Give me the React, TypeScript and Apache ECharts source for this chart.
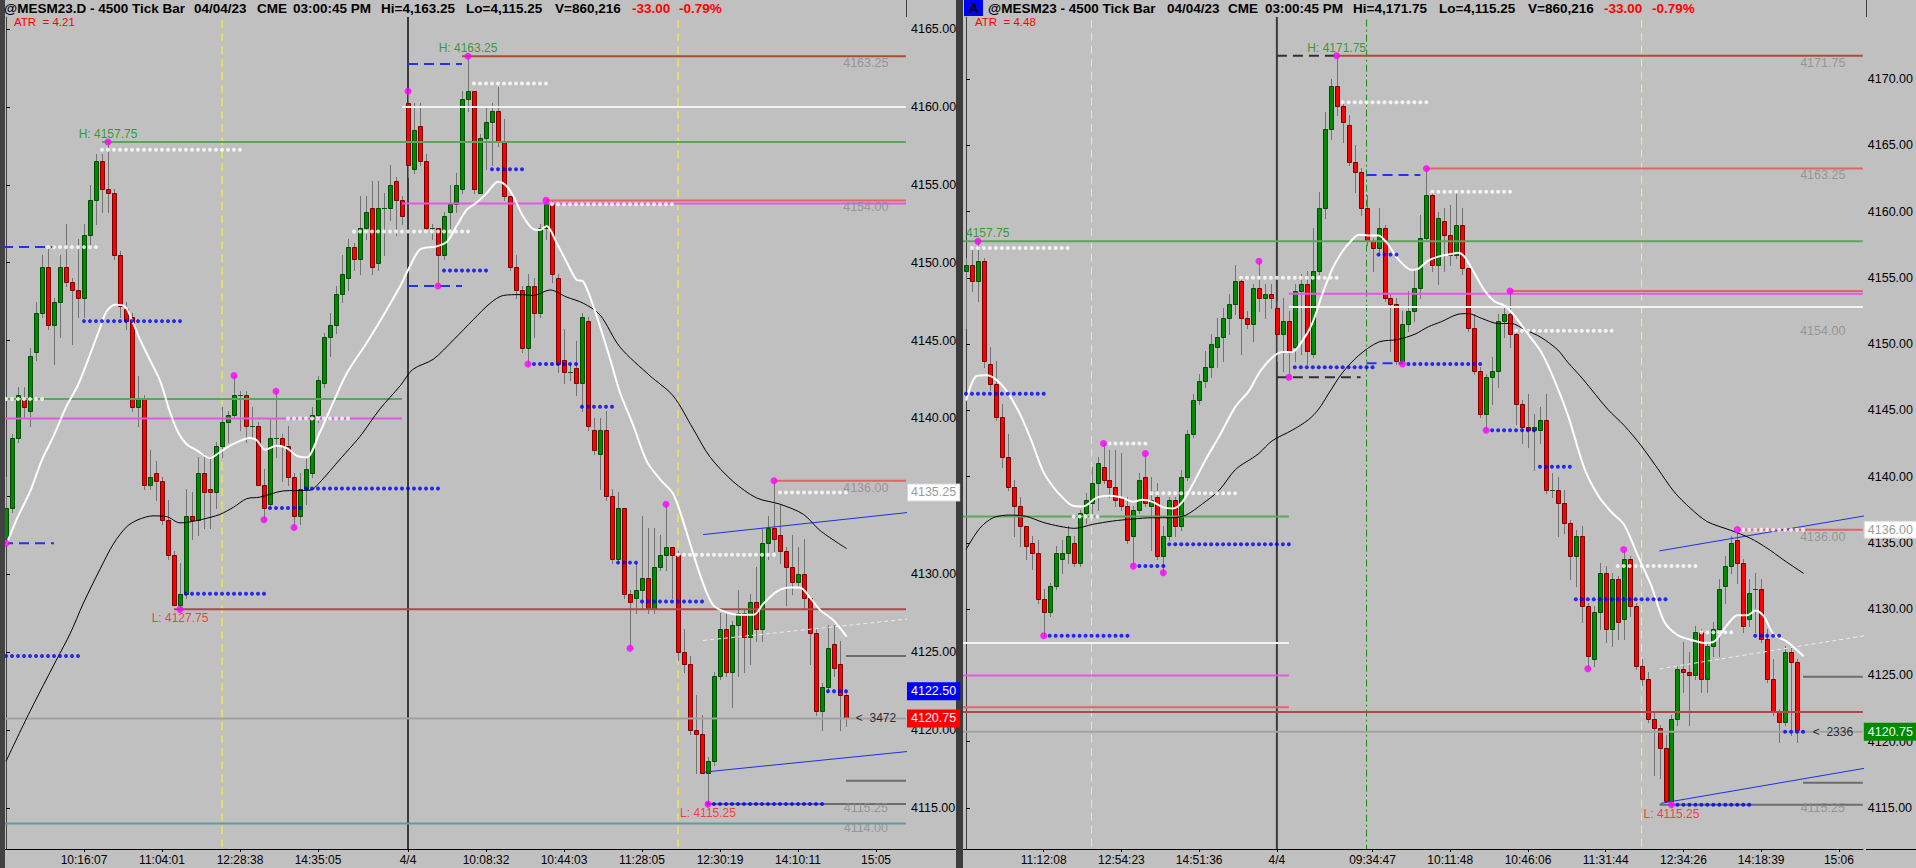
import React, { useEffect, useRef } from "react";
import * as echarts from "echarts";

// ---------- price bars: [open, high, low, close] ----------
const leftBars = [
  [4132.25, 4136.25, 4132.0, 4134.25], [4134.25, 4139.0, 4134.0, 4138.75], [4138.75, 4142.0, 4138.5, 4141.5],
  [4141.25, 4142.0, 4140.0, 4140.75], [4140.5, 4144.5, 4139.5, 4144.0], [4144.25, 4147.5, 4143.75, 4146.75],
  [4146.75, 4150.5, 4146.5, 4149.75], [4149.75, 4151.0, 4145.75, 4146.0], [4146.0, 4147.75, 4143.5, 4147.5],
  [4147.5, 4150.5, 4145.25, 4149.75], [4149.75, 4152.5, 4148.5, 4148.75], [4148.75, 4149.0, 4144.75, 4148.25],
  [4148.25, 4151.5, 4146.5, 4147.75], [4147.75, 4152.5, 4146.5, 4151.75], [4151.75, 4155.0, 4151.0, 4154.0],
  [4154.0, 4157.0, 4152.5, 4156.5], [4156.5, 4157.0, 4153.25, 4154.75], [4154.75, 4157.75, 4153.25, 4154.5],
  [4154.5, 4154.75, 4150.25, 4150.5], [4150.5, 4150.75, 4146.5, 4147.25], [4147.0, 4147.5, 4145.75, 4146.25],
  [4146.5, 4146.75, 4140.5, 4140.75], [4140.75, 4142.75, 4139.5, 4141.25], [4141.25, 4141.5, 4135.5, 4135.75],
  [4135.75, 4138.0, 4135.5, 4136.25], [4136.5, 4137.25, 4134.75, 4136.0], [4136.0, 4136.25, 4133.25, 4133.5],
  [4133.5, 4134.75, 4131.0, 4131.25], [4131.25, 4131.5, 4128.0, 4128.0], [4128.0, 4130.75, 4127.75, 4128.75],
  [4128.75, 4135.5, 4128.5, 4133.75], [4133.75, 4135.25, 4132.25, 4133.5], [4133.5, 4137.5, 4132.5, 4136.5],
  [4136.5, 4137.75, 4133.0, 4135.25], [4135.5, 4137.5, 4133.0, 4135.25], [4135.25, 4138.5, 4134.25, 4138.25],
  [4138.25, 4140.75, 4137.5, 4139.75], [4139.75, 4140.5, 4138.5, 4140.25], [4140.25, 4142.75, 4140.0, 4141.5],
  [4141.5, 4141.75, 4139.25, 4141.5], [4141.5, 4141.75, 4138.5, 4139.5], [4139.5, 4140.75, 4138.75, 4139.5],
  [4139.5, 4139.75, 4135.75, 4135.75], [4135.75, 4136.75, 4133.5, 4134.25], [4134.5, 4140.0, 4134.25, 4138.75],
  [4138.75, 4141.75, 4137.5, 4138.75], [4138.75, 4139.0, 4136.0, 4138.25], [4138.25, 4139.5, 4135.75, 4136.25],
  [4136.25, 4136.5, 4133.0, 4133.75], [4133.75, 4136.5, 4133.25, 4135.5], [4135.5, 4137.5, 4134.5, 4136.75],
  [4136.5, 4140.75, 4136.25, 4140.25], [4140.25, 4142.75, 4139.75, 4142.5], [4142.25, 4145.5, 4142.0, 4145.25],
  [4145.25, 4146.75, 4144.0, 4146.0], [4146.0, 4148.5, 4145.5, 4148.0], [4148.0, 4150.5, 4147.5, 4149.25],
  [4149.0, 4151.5, 4148.25, 4151.0], [4151.0, 4151.25, 4149.5, 4150.25], [4150.25, 4154.25, 4149.25, 4152.25],
  [4152.25, 4154.25, 4151.5, 4153.25], [4153.5, 4155.25, 4149.25, 4149.75], [4150.0, 4155.25, 4149.5, 4153.5],
  [4153.5, 4154.5, 4150.5, 4153.5], [4153.5, 4156.25, 4152.75, 4155.0], [4155.25, 4155.5, 4151.75, 4154.0],
  [4154.0, 4154.25, 4152.5, 4153.0], [4160.25, 4161.0, 4155.5, 4156.25], [4156.0, 4160.25, 4155.75, 4158.5],
  [4158.75, 4160.25, 4156.25, 4156.5], [4156.5, 4157.0, 4152.0, 4152.25], [4152.25, 4152.5, 4151.5, 4152.25],
  [4152.25, 4152.25, 4148.5, 4150.5], [4150.5, 4153.25, 4150.25, 4153.0], [4153.25, 4155.0, 4152.25, 4153.75],
  [4153.75, 4155.75, 4153.25, 4155.0], [4154.75, 4161.0, 4154.5, 4160.5], [4160.5, 4163.25, 4159.75, 4161.0],
  [4161.0, 4161.0, 4154.5, 4154.75], [4154.5, 4158.25, 4154.5, 4158.0], [4158.0, 4160.0, 4156.0, 4159.0],
  [4159.0, 4160.25, 4156.25, 4159.75], [4159.75, 4161.25, 4157.5, 4157.75], [4157.75, 4159.25, 4154.0, 4154.25],
  [4154.25, 4154.25, 4149.5, 4149.75], [4149.75, 4150.5, 4147.75, 4148.25], [4148.25, 4148.5, 4144.25, 4144.5],
  [4144.5, 4149.25, 4143.5, 4148.5], [4148.5, 4149.0, 4145.25, 4146.75], [4146.75, 4152.5, 4146.5, 4152.25],
  [4152.25, 4154.0, 4151.5, 4153.75], [4153.75, 4154.0, 4148.75, 4149.25], [4149.0, 4149.25, 4143.0, 4143.5],
  [4143.75, 4145.75, 4142.25, 4143.0], [4143.0, 4143.5, 4142.5, 4143.0], [4143.25, 4145.0, 4141.5, 4142.25],
  [4142.25, 4146.75, 4140.5, 4146.5], [4146.25, 4146.5, 4139.25, 4139.5], [4139.25, 4140.0, 4137.75, 4138.0],
  [4137.75, 4140.0, 4135.5, 4139.25], [4139.25, 4140.5, 4134.75, 4135.0], [4135.0, 4135.5, 4130.75, 4131.0],
  [4131.0, 4135.25, 4130.75, 4134.25], [4134.25, 4134.25, 4128.5, 4128.75], [4128.75, 4129.0, 4125.25, 4128.25],
  [4128.5, 4130.75, 4127.5, 4129.0], [4129.0, 4133.75, 4127.75, 4129.75], [4129.75, 4133.0, 4127.5, 4127.75],
  [4127.75, 4133.0, 4127.5, 4130.5], [4130.5, 4132.5, 4130.25, 4131.25], [4131.25, 4134.5, 4130.25, 4131.75],
  [4131.75, 4131.75, 4128.5, 4131.25], [4131.25, 4131.5, 4124.5, 4125.0], [4125.0, 4126.5, 4123.75, 4124.25],
  [4124.25, 4124.75, 4119.75, 4120.0], [4120.0, 4122.25, 4117.25, 4119.75], [4119.75, 4121.0, 4117.25, 4117.25],
  [4117.25, 4118.25, 4115.25, 4118.0], [4118.0, 4123.75, 4117.75, 4123.5], [4123.5, 4127.5, 4123.25, 4126.5],
  [4126.5, 4127.5, 4123.5, 4123.75], [4123.75, 4127.0, 4121.5, 4126.75], [4126.75, 4129.0, 4123.5, 4127.5],
  [4127.5, 4127.75, 4123.75, 4126.0], [4126.0, 4128.75, 4124.25, 4128.25], [4128.25, 4130.5, 4125.75, 4126.5],
  [4126.5, 4133.0, 4125.75, 4132.0], [4132.0, 4133.75, 4131.0, 4133.0], [4133.0, 4136.0, 4131.5, 4132.25],
  [4132.5, 4134.5, 4130.75, 4131.5], [4131.5, 4131.75, 4128.0, 4130.5], [4130.5, 4132.5, 4128.75, 4129.5],
  [4129.5, 4131.75, 4129.25, 4130.0], [4130.0, 4132.25, 4127.75, 4128.5], [4128.5, 4128.5, 4124.25, 4126.25],
  [4126.25, 4126.5, 4121.0, 4121.25], [4121.25, 4123.0, 4120.0, 4122.75], [4122.75, 4126.75, 4122.5, 4125.25],
  [4125.5, 4126.75, 4123.5, 4124.0], [4124.25, 4125.75, 4120.0, 4122.25], [4122.25, 4122.5, 4120.25, 4120.75],
];

const rightBars = [
  [4155.5, 4156.5, 4151.25, 4156.0], [4156.0, 4157.25, 4154.0, 4154.75], [4154.75, 4157.75, 4153.25, 4156.25],
  [4156.25, 4156.5, 4148.25, 4148.75], [4148.5, 4149.75, 4146.5, 4147.0], [4147.0, 4148.75, 4144.25, 4144.5],
  [4144.5, 4145.5, 4140.75, 4141.5], [4141.5, 4143.25, 4139.0, 4139.25], [4139.25, 4139.75, 4135.5, 4137.75],
  [4137.75, 4138.5, 4134.75, 4136.25], [4136.25, 4136.25, 4133.75, 4134.75], [4135.0, 4135.5, 4133.0, 4134.25],
  [4134.25, 4135.25, 4130.5, 4130.75], [4130.75, 4131.5, 4128.0, 4129.75], [4129.75, 4132.0, 4129.5, 4131.75],
  [4131.75, 4134.75, 4131.5, 4134.25], [4133.75, 4135.25, 4132.75, 4134.25], [4134.25, 4136.25, 4133.5, 4135.5],
  [4135.0, 4135.5, 4133.25, 4133.5], [4133.5, 4137.5, 4133.25, 4137.25], [4137.25, 4138.75, 4136.5, 4138.25],
  [4138.0, 4140.75, 4137.25, 4139.5], [4139.5, 4141.5, 4137.5, 4141.0], [4140.75, 4142.5, 4139.5, 4139.75],
  [4139.75, 4142.0, 4138.5, 4139.25], [4139.25, 4142.0, 4137.75, 4138.25], [4138.5, 4141.75, 4137.5, 4137.75],
  [4137.75, 4138.5, 4135.0, 4135.25], [4135.5, 4137.75, 4133.25, 4137.5], [4137.5, 4140.25, 4137.25, 4139.75],
  [4140.0, 4141.75, 4137.75, 4138.0], [4137.75, 4140.0, 4134.5, 4138.25], [4138.5, 4139.5, 4133.75, 4134.0],
  [4134.0, 4136.25, 4132.75, 4135.5], [4135.5, 4138.5, 4135.25, 4138.25], [4138.25, 4138.5, 4135.5, 4136.25],
  [4136.25, 4140.5, 4136.0, 4140.0], [4140.0, 4143.5, 4139.75, 4143.25], [4143.25, 4146.25, 4143.0, 4145.75],
  [4145.75, 4147.75, 4145.5, 4147.25], [4147.25, 4149.5, 4146.75, 4148.25], [4148.25, 4150.75, 4147.5, 4150.0],
  [4149.75, 4152.0, 4148.25, 4150.5], [4150.5, 4152.75, 4148.75, 4152.0], [4152.0, 4153.75, 4150.75, 4153.0],
  [4153.0, 4156.0, 4152.25, 4154.75], [4154.75, 4155.0, 4149.25, 4152.0], [4152.0, 4152.5, 4151.25, 4151.5],
  [4151.5, 4154.5, 4150.25, 4154.25], [4154.25, 4156.25, 4152.5, 4153.5], [4153.5, 4154.5, 4152.0, 4153.75],
  [4153.75, 4154.5, 4152.75, 4153.5], [4152.75, 4153.25, 4148.75, 4150.75], [4150.75, 4153.5, 4148.0, 4151.75],
  [4151.75, 4152.5, 4147.5, 4149.5], [4149.75, 4154.5, 4148.75, 4154.0], [4154.0, 4155.25, 4149.25, 4154.5],
  [4154.5, 4155.5, 4148.5, 4149.5], [4149.25, 4158.75, 4149.0, 4155.5], [4155.5, 4161.5, 4155.25, 4160.25],
  [4160.25, 4167.5, 4159.5, 4166.25], [4166.25, 4170.0, 4165.5, 4169.5], [4169.5, 4171.75, 4167.25, 4168.0],
  [4168.0, 4168.25, 4165.25, 4166.75], [4166.5, 4167.25, 4163.5, 4163.75], [4163.75, 4165.0, 4161.5, 4163.0],
  [4163.0, 4163.25, 4159.75, 4160.25], [4160.25, 4161.25, 4157.5, 4157.75], [4157.75, 4158.0, 4155.5, 4157.25],
  [4157.25, 4160.25, 4156.75, 4158.75], [4158.75, 4159.0, 4153.25, 4153.5], [4153.5, 4153.75, 4149.5, 4153.0],
  [4153.0, 4153.5, 4148.5, 4148.75], [4148.75, 4152.5, 4148.5, 4151.5], [4151.5, 4154.0, 4151.0, 4152.5],
  [4152.5, 4155.5, 4151.75, 4154.25], [4154.25, 4159.75, 4153.5, 4158.0], [4158.0, 4163.25, 4157.75, 4161.25],
  [4161.25, 4161.5, 4155.5, 4156.0], [4156.0, 4160.0, 4154.5, 4159.5], [4159.25, 4160.25, 4155.5, 4158.25],
  [4158.25, 4160.5, 4156.0, 4156.75], [4156.75, 4161.5, 4156.5, 4159.0], [4159.0, 4160.25, 4155.25, 4155.75],
  [4155.75, 4155.75, 4151.0, 4151.25], [4151.25, 4152.25, 4147.75, 4148.0], [4148.0, 4148.25, 4144.5, 4144.75],
  [4144.75, 4147.75, 4143.5, 4147.5], [4147.5, 4149.0, 4145.5, 4148.0], [4148.0, 4152.25, 4146.75, 4151.75],
  [4151.75, 4153.0, 4150.5, 4152.25], [4152.25, 4154.0, 4149.75, 4150.75], [4150.75, 4151.0, 4144.0, 4145.5],
  [4145.5, 4145.75, 4142.5, 4143.75], [4143.75, 4146.25, 4142.25, 4143.5], [4143.5, 4144.75, 4140.5, 4143.75],
  [4143.5, 4145.25, 4142.5, 4144.25], [4144.25, 4146.25, 4138.75, 4139.0], [4139.0, 4140.25, 4138.5, 4139.0],
  [4139.0, 4140.0, 4135.5, 4138.0], [4138.0, 4139.0, 4135.75, 4136.5], [4136.5, 4136.75, 4132.25, 4134.0],
  [4134.0, 4136.0, 4131.75, 4135.5], [4135.5, 4136.25, 4129.0, 4130.25], [4130.25, 4130.5, 4125.5, 4126.5],
  [4126.25, 4130.25, 4125.75, 4129.75], [4129.75, 4133.5, 4128.5, 4132.75], [4132.75, 4133.25, 4127.5, 4128.5],
  [4128.5, 4132.75, 4127.25, 4132.25], [4132.25, 4132.5, 4127.75, 4129.0], [4129.25, 4134.5, 4127.75, 4133.75],
  [4133.75, 4134.0, 4129.5, 4130.25], [4130.25, 4130.5, 4125.5, 4125.75], [4125.75, 4126.25, 4124.25, 4124.75],
  [4124.75, 4125.25, 4121.5, 4121.75], [4121.75, 4122.25, 4117.5, 4121.0], [4121.0, 4121.25, 4117.25, 4119.5],
  [4119.5, 4120.5, 4115.5, 4115.5], [4115.5, 4122.0, 4115.25, 4121.75], [4121.75, 4125.75, 4121.25, 4125.5],
  [4125.5, 4127.5, 4123.75, 4125.25], [4125.25, 4126.75, 4121.25, 4125.0], [4125.0, 4128.75, 4124.75, 4128.25],
  [4128.25, 4128.5, 4123.75, 4124.75], [4124.75, 4127.5, 4123.75, 4127.25], [4127.25, 4129.0, 4126.5, 4128.5],
  [4128.5, 4132.25, 4126.5, 4131.5], [4131.75, 4134.0, 4130.5, 4133.25], [4133.25, 4135.5, 4132.75, 4135.0],
  [4135.25, 4136.0, 4132.0, 4133.5], [4133.5, 4133.75, 4128.25, 4128.75], [4129.25, 4132.25, 4128.75, 4131.25],
  [4131.5, 4132.75, 4128.25, 4131.5], [4131.5, 4132.25, 4127.5, 4127.75], [4127.75, 4128.5, 4124.5, 4124.75],
  [4124.75, 4126.25, 4122.0, 4122.25], [4122.25, 4122.5, 4120.0, 4121.5], [4121.5, 4127.25, 4121.25, 4126.75],
  [4126.75, 4127.25, 4120.5, 4126.0], [4126.0, 4126.25, 4120.0, 4120.75],
];

// ---------- moving averages traced as [bar, price] ----------
const leftFastMA = [
  [0, 4131.85], [1.8, 4133.55], [4, 4135.3], [6, 4137.35], [7.9, 4138.85], [10.1, 4140.8], [12, 4142.15], [14, 4144.1],
  [15.7, 4145.85], [16.8, 4146.9], [18.2, 4147.3], [19.8, 4147.2], [21, 4146.3], [22.3, 4145.1], [24, 4143.75],
  [25.7, 4142.4], [27.3, 4140.45], [28.7, 4139.1], [30.1, 4138.35], [31.8, 4137.95], [34, 4137.45], [35.7, 4137.85],
  [37.8, 4138.35], [40.7, 4138.75], [41.8, 4138.6], [43.2, 4138.0], [45.1, 4138.25], [46.8, 4138.1], [48.5, 4137.6],
  [50.1, 4137.5], [52.3, 4139.1], [54.5, 4141.0], [56.8, 4142.9], [60.1, 4144.85], [62.8, 4146.55], [65.7, 4148.5],
  [67.3, 4149.75], [69, 4150.85], [71.8, 4151.05], [73.5, 4151.35], [75.1, 4152.35], [76.8, 4153.4], [78.4, 4153.85],
  [80.1, 4154.45], [82, 4155.2], [83.2, 4155.0], [84.6, 4154.25], [86, 4153.1], [87.9, 4152.15], [89, 4152.1],
  [90.1, 4152.35], [91.8, 4151.25], [93.5, 4150.0], [95.1, 4148.9], [96.2, 4148.8], [97.9, 4147.2], [99.5, 4145.3],
  [100.7, 4143.8], [102.3, 4141.7], [104.5, 4139.6], [106.8, 4137.25], [109, 4136.1], [111.2, 4135.15], [112.9, 4133.35],
  [114.6, 4131.25], [116.2, 4129.4], [117.9, 4128.0], [120.1, 4127.55], [122.3, 4127.4], [124.6, 4127.4], [126.2, 4128.1],
  [128.5, 4128.9], [130.7, 4129.15], [132.3, 4129.15], [134, 4128.5], [135.7, 4127.7], [137.9, 4127.05], [140.1, 4126.0],
];
const leftSlowMA = [
  [0, 4118.0], [4, 4121.2], [8.4, 4124.5], [10.7, 4126.2], [12.9, 4128.15], [15.7, 4130.35], [17.9, 4131.95],
  [20.1, 4133.05], [22, 4133.5], [24.5, 4133.75], [26.8, 4133.7], [29, 4133.3], [31.2, 4133.4], [34, 4133.65],
  [35.7, 4133.85], [37.9, 4134.3], [40.1, 4134.85], [42.3, 4134.95], [46.2, 4135.35], [50.7, 4135.4], [52.3, 4135.9],
  [55.7, 4137.4], [59, 4138.85], [62.3, 4140.6], [65.7, 4142.1], [67.8, 4143.15], [71.2, 4143.8], [74.6, 4145.05],
  [77.9, 4146.35], [80.7, 4147.4], [82.9, 4147.9], [85.7, 4147.95], [87.9, 4147.9], [90.7, 4148.25], [93.4, 4147.8],
  [96.2, 4147.4], [99, 4146.65], [102.3, 4144.6], [107.3, 4142.75], [111.2, 4141.45], [114.5, 4139.35], [117.3, 4137.55],
  [121.2, 4135.95], [125.1, 4134.9], [129, 4134.5], [132.9, 4133.85], [135.7, 4132.8], [140.1, 4131.65],
];
const rightFastMA = [
  [0, 4145.75], [1.8, 4147.6], [3.45, 4147.65], [5.1, 4147.3], [6.8, 4146.45], [9, 4144.75], [10.95, 4142.7],
  [12.9, 4140.4], [14.55, 4139.25], [16.2, 4138.4], [17.9, 4137.8], [19.55, 4137.75], [21.8, 4138.4], [24, 4138.55],
  [26.2, 4138.4], [27.9, 4138.1], [29.55, 4138.25], [31.2, 4138.1], [32.9, 4137.7], [34.55, 4137.6], [36.2, 4138.1],
  [37.9, 4139.4], [40.1, 4141.3], [42.3, 4143.0], [45.1, 4145.3], [47.3, 4146.45], [49, 4147.8], [51, 4148.9],
  [52.9, 4149.4], [54.55, 4149.4], [56.2, 4150.2], [57.9, 4151.55], [59.55, 4153.7], [61.2, 4155.6], [62.9, 4156.95],
  [64.55, 4157.85], [65.7, 4158.25], [67.3, 4158.2], [69, 4158.2], [70.7, 4157.45], [72.3, 4156.4], [74.55, 4155.6],
  [75.7, 4155.7], [77.3, 4156.3], [79, 4156.6], [81.2, 4156.8], [82.3, 4156.9], [83.45, 4156.55], [85.1, 4155.3],
  [86.8, 4154.0], [88.45, 4153.2], [90.1, 4152.9], [91.8, 4152.1], [94, 4150.75], [96.2, 4149.4], [98.45, 4147.25],
  [100.7, 4144.6], [103.45, 4140.6], [105.7, 4138.6], [107.9, 4137.35], [110.1, 4136.35], [112.3, 4134.1],
  [114.55, 4131.85], [116.8, 4129.05], [119, 4128.05], [121.2, 4127.7], [123.45, 4127.45], [125.1, 4127.55],
  [127.3, 4128.8], [129, 4129.55], [130.7, 4129.55], [132.05, 4129.9], [133.45, 4129.45], [135.1, 4128.1],
  [137.3, 4127.55], [140.1, 4126.45],
];
const rightSlowMA = [
  [0, 4134.5], [2.3, 4136.1], [4.55, 4136.9], [7.3, 4137.1], [10.1, 4137.0], [12.9, 4136.55], [15.7, 4136.25],
  [18.2, 4136.1], [21.2, 4136.4], [24.55, 4136.65], [27.9, 4136.8], [31.2, 4136.9], [34.55, 4136.9], [36.8, 4137.1],
  [39.55, 4137.95], [42.3, 4138.95], [45.1, 4140.55], [47.9, 4141.4], [49, 4141.75], [51.2, 4142.7], [54.55, 4143.5],
  [57.3, 4144.3], [59, 4145.1], [60.7, 4146.3], [62.9, 4147.8], [65.7, 4149.15], [69, 4150.15], [72.3, 4150.35],
  [75.1, 4150.75], [77.3, 4151.3], [79.55, 4151.7], [82.3, 4152.25], [84, 4152.3], [86.2, 4151.95], [89, 4151.55],
  [91.2, 4151.55], [93.45, 4151.1], [96.2, 4150.5], [99, 4149.55], [100.7, 4148.6], [103.2, 4147.35], [107.3, 4145.1],
  [110.1, 4143.85], [112.9, 4142.35], [115.7, 4140.6], [118.45, 4138.85], [121.2, 4137.6], [124, 4136.6],
  [127.9, 4135.95], [131.2, 4135.35], [134, 4134.6], [136.8, 4133.7], [140.1, 4132.7],
];

// ---------- horizontal levels: [fromBar, toBar, price] ----------
const leftHighLevels = [[76, 150, 4163.25]];
const leftRedLevels = [[90, 150, 4154.0], [128, 150, 4136.0]];
const leftLowLevels = [[28, 150, 4127.75]];
const leftGreenLevels = [[16, 150, 4157.75], [-0.5, 66, 4141.25]];
const leftMagentaLevels = [[66, 150, 4153.8], [-0.5, 66, 4140.0]];
const leftWhiteLevels = [[66, 150, 4160.0]];
const leftTealLevels = [[-0.5, 150, 4114.0]];
const leftStubLevels = [[140, 150, 4124.75], [140, 150, 4116.75], [117, 150, 4115.25]];
const leftBlueDashes = [[-0.5, 8, 4151.0], [-0.5, 8, 4132.0], [67, 76, 4162.75], [67, 76, 4148.5]];
const leftBlackDashes: number[][] = [];

const rightHighLevels = [[62, 150, 4171.75]];
const rightRedLevels = [[77, 150, 4163.25], [91, 150, 4154.0], [129, 150, 4136.0], [-0.5, 54, 4122.6]];
const rightLowLevels = [[-0.5, 150, 4122.25]];
const rightGreenLevels = [[-0.5, 150, 4157.75], [-0.5, 54, 4137.0]];
const rightMagentaLevels = [[54, 150, 4153.8], [-0.5, 54, 4125.0]];
const rightWhiteLevels = [[54, 150, 4152.8], [-0.5, 54, 4127.45]];
const rightTealLevels: number[][] = [];
const rightStubLevels = [[140, 150, 4124.9], [140, 150, 4116.9], [116, 150, 4115.25]];
const rightBlueDashes = [[67, 76, 4162.75], [67, 73, 4148.55]];
const rightBlackDashes = [[52, 62, 4171.75], [52, 66, 4147.5]];

const lastPrice = 4120.75;

// ---------- trend channels: [fromBar, fromPrice, toBar, toPrice] ----------
const leftChannel = [[116.2, 4132.55, 155, 4134.16], [116.2, 4117.3, 155, 4118.81]];
const leftMidline = [[116.2, 4125.75, 155, 4127.32]];
const rightChannel = [[116, 4134.4, 155, 4137.4], [116.2, 4115.35, 155, 4118.36]];
const rightMidline = [[116, 4125.5, 155, 4128.34]];

// ---------- dotted pivot runs: [fromBar, toBar, price] ----------
const leftBlueDots = [
  [81, 86, 4156.0], [73, 80, 4149.5], [13, 29, 4146.25], [88, 95, 4143.5], [96, 101, 4140.75], [50, 72, 4135.5],
  [44, 49, 4134.25], [30, 43, 4128.75], [0, 12, 4124.75], [102, 105, 4130.75], [106, 116, 4128.25],
  [117, 136, 4115.25], [137, 140, 4122.5],
];
const leftWhiteDots = [
  [16, 39, 4157.25], [78, 90, 4161.5], [91, 111, 4153.75], [58, 77, 4152.0], [7, 15, 4151.0], [0, 6, 4141.25],
  [47, 57, 4140.0], [112, 128, 4131.25], [129, 140, 4135.25],
];
const rightBlueDots = [
  [69, 72, 4156.75], [55, 68, 4148.25], [74, 86, 4148.5], [88, 95, 4143.5], [0, 13, 4146.25], [96, 101, 4140.75],
  [34, 54, 4134.9], [29, 33, 4133.25], [14, 27, 4128.0], [102, 117, 4130.75], [132, 136, 4128.0],
  [137, 140, 4120.75], [119, 131, 4115.25],
];
const rightWhiteDots = [
  [63, 77, 4168.25], [78, 91, 4161.5], [1, 17, 4157.25], [46, 62, 4155.0], [92, 108, 4151.0], [24, 30, 4142.5],
  [31, 45, 4138.75], [18, 22, 4137.0], [109, 122, 4133.25], [123, 128, 4128.25], [129, 140, 4136.0],
];

// ---------- swing points: [bar, price] ----------
const leftSwings = [
  [0, 4132.0], [17, 4157.75], [29, 4127.75], [38, 4142.75], [43, 4133.5], [45, 4141.75], [48, 4133.0], [67, 4161.0],
  [72, 4148.5], [77, 4163.25], [87, 4143.5], [90, 4154.0], [104, 4125.25], [110, 4134.5], [117, 4115.25], [128, 4136.0],
];
const rightSwings = [
  [2, 4157.75], [13, 4128.0], [23, 4142.5], [28, 4133.25], [30, 4141.75], [33, 4132.75], [49, 4156.25], [54, 4147.5],
  [62, 4171.75], [73, 4148.5], [77, 4163.25], [87, 4143.5], [91, 4154.0], [104, 4125.5], [110, 4134.5], [118, 4115.25],
  [129, 4136.0],
];

// session high / low tags: [bar, price]
const leftHighTags = [[17, 4157.75], [77, 4163.25]];
const leftLowTags = [[29, 4127.75], [117, 4115.25]];
const rightHighTags = [[62, 4171.75]];
const rightLowTags = [[118, 4115.25]];

// grey level captions near the price scale
const leftLevelTags = [4163.25, 4154.0, 4136.0, 4115.25, 4114.0];
const rightLevelTags = [4171.75, 4163.25, 4154.0, 4136.0, 4115.25];

// price-scale flags
const leftFlagWhite = [4135.25];
const leftFlagBlue = [4122.5];
const rightFlagWhite = [4136.0];

// session separators (bar positions)
const leftYellowMarks = [36, 112];
const leftDayMarks = [67];
const leftGreenMarks: number[] = [];
const rightYellowMarks = [21, 113];
const rightDayMarks = [52];
const rightGreenMarks = [67];

// time axis
const leftTimeTicks = [13, 26, 39, 52, 67, 80, 93, 106, 119, 132, 145];
const leftTimeLabels = ["10:16:07", "11:04:01", "12:28:38", "14:35:05", "4/4", "10:08:32", "10:44:03", "11:28:05", "12:30:19", "14:10:11", "15:05"];
const rightTimeTicks = [13, 26, 39, 52, 68, 81, 94, 107, 120, 133, 146];
const rightTimeLabels = ["11:12:08", "12:54:23", "14:51:36", "4/4", "09:34:47", "10:11:48", "10:46:06", "11:31:44", "12:34:26", "14:18:39", "15:06"];

// price scale: ticks, and the labels left visible beside the flags
const leftPriceTicks = [4115, 4120, 4125, 4130, 4135, 4140, 4145, 4150, 4155, 4160, 4165];
const leftPriceLabels = [4115, 4120, 4125, 4130, 4140, 4145, 4150, 4155, 4160, 4165];
const rightPriceTicks = [4115, 4120, 4125, 4130, 4135, 4140, 4145, 4150, 4155, 4160, 4165, 4170];
const rightPriceLabels = [4115, 4120, 4125, 4130, 4135, 4140, 4145, 4150, 4155, 4160, 4165, 4170];

const leftVolume = "3472";
const rightVolume = "2336";

// ---------- layout ----------
const FONT = '"Liberation Sans", Arial, Helvetica, sans-serif';
const NARROW = '"Liberation Sans Narrow", "Arial Narrow", "Liberation Sans", Arial, sans-serif';
const GRID_TOP = 17;
const GRID_H = 832;
const LEFT_RANGE = { min: 4112.368, max: 4165.77 };
const RIGHT_RANGE = { min: 4111.907, max: 4174.677 };

const renderCandle = (params: any, api: any) => {
  const i = api.value(0);
  const o = api.value(1);
  const h = api.value(2);
  const l = api.value(3);
  const c = api.value(4);
  const pH = api.coord([i, h]);
  const pL = api.coord([i, l]);
  const yo = api.coord([i, o])[1];
  const yc = api.coord([i, c])[1];
  const x = Math.round(pH[0]);
  const top = Math.round(Math.min(yo, yc));
  const bot = Math.round(Math.max(yo, yc));
  const children: any[] = [
    {
      type: "line",
      shape: { x1: x + 0.5, y1: Math.round(pH[1]), x2: x + 0.5, y2: Math.round(pL[1]) + 1 },
      style: { stroke: "#737373", lineWidth: 1 },
    },
  ];
  if (bot - top < 1) {
    children.push({
      type: "line",
      shape: { x1: x - 2, y1: top + 0.5, x2: x + 3, y2: top + 0.5 },
      style: { stroke: "#006400", lineWidth: 1 },
    });
  } else {
    const up = c > o;
    children.push({
      type: "rect",
      shape: { x: x - 2 + 0.5, y: top + 0.5, width: 4, height: bot - top },
      style: { fill: up ? "#008a00" : "#ff0000", stroke: up ? "#004d00" : "#7a0000", lineWidth: 1 },
    });
  }
  return { type: "group", children };
};

const lineSeg = (gi: number, pts: number[][], color: string, width: number, z: number, dash?: any, clip = true) => ({
  type: "line",
  xAxisIndex: gi,
  yAxisIndex: gi,
  data: pts,
  symbol: "none",
  silent: true,
  clip,
  z,
  lineStyle: { color, width, type: dash || "solid" },
});

const levelSeries = (gi: number, segs: number[][], color: string, width: number, z: number, dash?: any) =>
  segs.map(([a, b, p]) => lineSeg(gi, [[a, p], [b, p]], color, width, z, dash));

const dotSeries = (gi: number, runs: number[][], color: string, size: number, z: number) => {
  const pts: number[][] = [];
  runs.forEach(([a, b, p]) => {
    for (let i = a; i <= b; i++) pts.push([i, p]);
  });
  return { type: "scatter", xAxisIndex: gi, yAxisIndex: gi, data: pts, symbolSize: size, itemStyle: { color }, silent: true, z };
};

const textSeries = (gi: number, items: any[], z = 8) => ({
  type: "scatter",
  xAxisIndex: gi,
  yAxisIndex: gi,
  symbolSize: 1,
  itemStyle: { color: "rgba(0,0,0,0)" },
  silent: true,
  z,
  data: items,
  label: { show: true, position: "inside", fontFamily: FONT, fontSize: 11 },
});

function panelSeries(gi: number, cfg: any) {
  const range = cfg.range;
  const series: any[] = [];
  // vertical session markers
  cfg.yellow.forEach((x: number) =>
    series.push(lineSeg(gi, [[x, range.max - 0.2], [x, range.min]], "#ffff00", 1, 1, [8, 5]))
  );
  cfg.day.forEach((x: number) => series.push(lineSeg(gi, [[x, range.max], [x, range.min]], "#3a3a3a", 2, 1)));
  cfg.green.forEach((x: number) =>
    series.push(lineSeg(gi, [[x, range.max - 0.2], [x, range.min]], "#138a13", 1, 1, [7, 3, 2, 3]))
  );
  // candles
  series.push({
    type: "custom",
    xAxisIndex: gi,
    yAxisIndex: gi,
    renderItem: renderCandle,
    data: cfg.bars.map((b: number[], i: number) => [i, b[0], b[1], b[2], b[3]]),
    encode: { x: 0, y: [1, 2, 3, 4] },
    clip: true,
    silent: true,
    z: 2,
  });
  // levels
  series.push(...levelSeries(gi, cfg.teal, "#5e9e9e", 2, 3));
  series.push(...levelSeries(gi, cfg.stub, "#6c6c6c", 2, 3));
  series.push(...levelSeries(gi, cfg.white, "#f4f4f4", 2, 3));
  series.push(...levelSeries(gi, cfg.greenLv, "#5ea35e", 2, 3));
  series.push(...levelSeries(gi, cfg.magenta, "#e25ae2", 2, 3));
  series.push(...levelSeries(gi, cfg.low, "#b04848", 2, 3));
  series.push(...levelSeries(gi, cfg.red, "#e26464", 2, 3));
  series.push(...levelSeries(gi, cfg.high, "#b04e2e", 2, 3));
  series.push(...levelSeries(gi, cfg.blueDash, "#2233e8", 2, 3, [10, 6]));
  series.push(...levelSeries(gi, cfg.blackDash, "#303030", 2, 3, [10, 6]));
  // last price line with price-scale flags
  const flags: any[] = [];
  const flag = (v: number, bg: string, fg: string) => ({
    yAxis: v,
    lineStyle: { color: "rgba(0,0,0,0)", width: 1 },
    label: {
      show: true,
      position: "end",
      distance: 2,
      formatter: v.toFixed(2),
      backgroundColor: bg,
      borderColor: bg === "#ffffff" ? "#d8d8d8" : bg,
      borderWidth: 1,
      color: fg,
      padding: [2, 3, 1, 3],
      fontSize: 12.5,
      fontFamily: NARROW,
      opacity: 1,
    },
  });
  cfg.flagWhite.forEach((v: number) => flags.push(flag(v, "#ffffff", "#9a9a9a")));
  cfg.flagBlue.forEach((v: number) => flags.push(flag(v, "#0000ff", "#ffffff")));
  flags.push(flag(lastPrice, cfg.lastColor, "#ffffff"));
  series.push({
    ...lineSeg(gi, [[-0.5, lastPrice], [150, lastPrice]], "#a2a2a2", 2, 3),
    markLine: {
      symbol: "none",
      silent: true,
      animation: false,
      z: 30,
      lineStyle: { color: "rgba(0,0,0,0)", width: 1, type: "solid" },
      data: flags,
    },
  });
  // channels
  cfg.channel.forEach(([a, p, b, q]: number[]) => series.push(lineSeg(gi, [[a, p], [b, q]], "#1f2fe6", 1, 4, "solid", false)));
  cfg.mid.forEach(([a, p, b, q]: number[]) => series.push(lineSeg(gi, [[a, p], [b, q]], "#ededed", 1, 4, [4, 3], false)));
  // averages
  series.push({ ...lineSeg(gi, cfg.slow, "#000000", 1, 5), smooth: 0.3 });
  series.push({ ...lineSeg(gi, cfg.fast, "#ffffff", 2, 5), smooth: 0.3 });
  // dots
  series.push(dotSeries(gi, cfg.blueDots, "#0000ff", 4, 6));
  series.push(dotSeries(gi, cfg.whiteDots, "#ffffff", 4, 6));
  series.push({
    type: "scatter",
    xAxisIndex: gi,
    yAxisIndex: gi,
    data: cfg.swings,
    symbolSize: 7,
    itemStyle: { color: "#ff00ff" },
    silent: true,
    z: 7,
  });
  // texts
  const texts: any[] = [];
  cfg.highTags.forEach(([x, p]: number[]) =>
    texts.push({ value: [x, p], label: { formatter: "H: " + p.toFixed(2), color: "#168a16", offset: [0, -8], fontSize: 12 } })
  );
  cfg.lowTags.forEach(([x, p]: number[]) =>
    texts.push({ value: [x, p], label: { formatter: "L: " + p.toFixed(2), color: "#ff1a1a", offset: [0, 9], fontSize: 12 } })
  );
  cfg.levelTags.forEach((p: number) =>
    texts.push({
      value: [143.3, p],
      label: { formatter: p.toFixed(2), color: "#8a8a8a", offset: [0, cfg.tagShift(p)], fontSize: 12.5 },
    })
  );
  texts.push({
    value: [145, lastPrice],
    label: { formatter: "<  " + cfg.volume, color: "#000000", offset: [0, 0], fontSize: 12 },
  });
  cfg.extraTexts.forEach((t: any) => texts.push(t));
  series.push(textSeries(gi, texts));
  return series;
}

function buildOption() {
  const leftCfg = {
    range: LEFT_RANGE,
    bars: leftBars,
    yellow: leftYellowMarks,
    day: leftDayMarks,
    green: leftGreenMarks,
    teal: leftTealLevels,
    stub: leftStubLevels,
    white: leftWhiteLevels,
    greenLv: leftGreenLevels,
    magenta: leftMagentaLevels,
    low: leftLowLevels,
    red: leftRedLevels,
    high: leftHighLevels,
    blueDash: leftBlueDashes,
    blackDash: leftBlackDashes,
    flagWhite: leftFlagWhite,
    flagBlue: leftFlagBlue,
    lastColor: "#ff0000",
    channel: leftChannel,
    mid: leftMidline,
    slow: leftSlowMA,
    fast: leftFastMA,
    blueDots: leftBlueDots,
    whiteDots: leftWhiteDots,
    swings: leftSwings,
    highTags: leftHighTags,
    lowTags: leftLowTags,
    levelTags: leftLevelTags,
    tagShift: (p: number) => (p < 4116 ? 4 : 7),
    volume: leftVolume,
    extraTexts: [],
  };
  const rightCfg = {
    range: RIGHT_RANGE,
    bars: rightBars,
    yellow: rightYellowMarks,
    day: rightDayMarks,
    green: rightGreenMarks,
    teal: rightTealLevels,
    stub: rightStubLevels,
    white: rightWhiteLevels,
    greenLv: rightGreenLevels,
    magenta: rightMagentaLevels,
    low: rightLowLevels,
    red: rightRedLevels,
    high: rightHighLevels,
    blueDash: rightBlueDashes,
    blackDash: rightBlackDashes,
    flagWhite: rightFlagWhite,
    flagBlue: [],
    lastColor: "#008a00",
    channel: rightChannel,
    mid: rightMidline,
    slow: rightSlowMA,
    fast: rightFastMA,
    blueDots: rightBlueDots,
    whiteDots: rightWhiteDots,
    swings: rightSwings,
    highTags: rightHighTags,
    lowTags: rightLowTags,
    levelTags: rightLevelTags,
    tagShift: (p: number) => (p === 4154 ? 40 : p < 4116 ? 3 : 7),
    volume: rightVolume,
    extraTexts: [
      { value: [-0.5, 4157.75], label: { formatter: "4157.75", color: "#168a16", align: "left", offset: [3, -8], fontSize: 12 } },
    ],
  };

  const xAxis = (gi: number, ticks: number[], labels: string[]) => {
    const map = new Map<number, string>();
    ticks.forEach((t, k) => map.set(t, labels[k]));
    return {
      type: "value",
      gridIndex: gi,
      min: -0.5,
      max: 150,
      axisLine: { show: true, onZero: false, lineStyle: { color: "#000000", width: 1 } },
      axisTick: { show: true, customValues: ticks, length: 3, lineStyle: { color: "#000000" } },
      axisLabel: {
        show: true,
        customValues: ticks,
        formatter: (v: number) => map.get(Math.round(v)) || "",
        color: "#000000",
        fontSize: 12,
        fontFamily: NARROW,
        margin: 5,
      },
      splitLine: { show: false },
    };
  };
  const yAxis = (gi: number, range: any, ticks: number[], labels: number[]) => ({
    type: "value",
    gridIndex: gi,
    position: "right",
    min: range.min,
    max: range.max,
    axisLine: { show: true, lineStyle: { color: "#404040", width: 1 } },
    axisTick: { show: true, customValues: ticks, length: 4, lineStyle: { color: "#000000" } },
    axisLabel: {
      show: true,
      customValues: labels,
      formatter: (v: number) => v.toFixed(2),
      color: "#000000",
      fontSize: 12.5,
      fontFamily: NARROW,
      margin: 5,
    },
    splitLine: { show: false },
  });

  const headText = (x: number, text: string, color = "#000000") => ({
    type: "text",
    x,
    y: 8,
    silent: true,
    z: 20,
    style: { text, fill: color, font: `bold 13.5px ${FONT}`, verticalAlign: "middle", align: "left" },
  });

  const graphic: any[] = [
    // panel frames
    { type: "rect", shape: { x: 0, y: 0, width: 5, height: 868 }, style: { fill: "#424242" }, z: 20, silent: true },
    { type: "rect", shape: { x: 956, y: 0, width: 7, height: 868 }, style: { fill: "#3c3c3c" }, z: 20, silent: true },
    // price scale extensions
    { type: "line", shape: { x1: 906.5, y1: 0, x2: 906.5, y2: GRID_TOP }, style: { stroke: "#404040", lineWidth: 1 }, z: 20, silent: true },
    { type: "line", shape: { x1: 1866.5, y1: 0, x2: 1866.5, y2: GRID_TOP }, style: { stroke: "#404040", lineWidth: 1 }, z: 20, silent: true },
    { type: "line", shape: { x1: 906, y1: 849.5, x2: 956, y2: 849.5 }, style: { stroke: "#000000", lineWidth: 1 }, z: 20, silent: true },
    { type: "line", shape: { x1: 1866, y1: 849.5, x2: 1916, y2: 849.5 }, style: { stroke: "#000000", lineWidth: 1 }, z: 20, silent: true },
    // left header
    headText(4, "@MESM23.D - 4500 Tick Bar"),
    headText(194, "04/04/23"),
    headText(257, "CME"),
    headText(293, "03:00:45 PM"),
    headText(381, "Hi=4,163.25"),
    headText(466, "Lo=4,115.25"),
    headText(555, "V=860,216"),
    headText(632, "-33.00", "#ff0000"),
    headText(679, "-0.79%", "#ff0000"),
    // right header
    { type: "rect", shape: { x: 964, y: 0, width: 19, height: 16 }, style: { fill: "#0000ff" }, z: 20, silent: true },
    { type: "text", x: 973.5, y: 8, z: 21, silent: true, style: { text: "A", fill: "#000000", font: `bold 14px ${FONT}`, align: "center", verticalAlign: "middle" } },
    headText(988, "@MESM23 - 4500 Tick Bar"),
    headText(1167, "04/04/23"),
    headText(1228, "CME"),
    headText(1265, "03:00:45 PM"),
    headText(1353, "Hi=4,171.75"),
    headText(1439, "Lo=4,115.25"),
    headText(1528, "V=860,216"),
    headText(1604, "-33.00", "#ff0000"),
    headText(1652, "-0.79%", "#ff0000"),
    // indicator captions
    { type: "text", x: 14, y: 22, z: 20, silent: true, style: { text: "ATR  = 4.21", fill: "#ff0000", font: `11.5px ${FONT}`, verticalAlign: "middle" } },
    { type: "text", x: 975, y: 22, z: 20, silent: true, style: { text: "ATR  = 4.48", fill: "#ff0000", font: `11.5px ${FONT}`, verticalAlign: "middle" } },
  ];

  return {
    animation: false,
    backgroundColor: "#c0c0c0",
    grid: [
      { left: 3, top: GRID_TOP, width: 903, height: GRID_H },
      { left: 963, top: GRID_TOP, width: 903, height: GRID_H },
    ],
    xAxis: [xAxis(0, leftTimeTicks, leftTimeLabels), xAxis(1, rightTimeTicks, rightTimeLabels)],
    yAxis: [yAxis(0, LEFT_RANGE, leftPriceTicks, leftPriceLabels), yAxis(1, RIGHT_RANGE, rightPriceTicks, rightPriceLabels)],
    series: [...panelSeries(0, leftCfg), ...panelSeries(1, rightCfg)],
    graphic,
  };
}

export default function App() {
  const ref = useRef<HTMLDivElement | null>(null);
  useEffect(() => {
    if (!ref.current) return;
    const chart = echarts.init(ref.current, null, { renderer: "svg" });
    chart.setOption(buildOption() as any);
    return () => chart.dispose();
  }, []);
  return (
    <div
      ref={ref}
      style={{ position: "fixed", left: 0, top: 0, width: 1916, height: 868, background: "#c0c0c0" }}
    />
  );
}
